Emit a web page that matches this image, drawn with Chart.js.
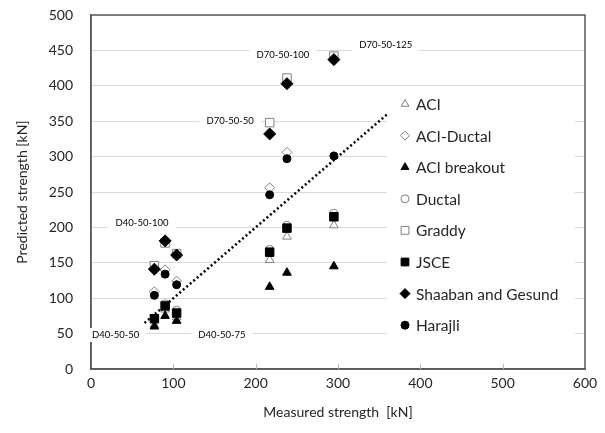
<!DOCTYPE html>
<html>
<head>
<meta charset="utf-8">
<script src="https://cdn.jsdelivr.net/npm/chart.js@4.4.1/dist/chart.umd.min.js"></script>
<style>
  html, body { margin: 0; padding: 0; background: #fff; }
  #wrap { width: 605px; height: 433px; }
</style>
</head>
<body>
<div id="wrap"><canvas id="chart" width="605" height="433"></canvas></div>
<script>
// measured capacity of each specimen [kN]
const measured = [77, 90, 104, 217, 238, 295];

// predicted capacity by each design model [kN]
const aci         = [62, 84, 73, 154, 187, 203];
const aciDuctal   = [109, 140, 124, 256, 306, 436];
const aciBreakout = [60, 75, 68, 116, 136, 145];
const ductal      = [72, 92, 83, 169, 203, 220];
const graddy      = [146, 178, 163, 348, 411, 442];
const jsce        = [71, 89, 79, 165, 199, 215];
const shaaban     = [141, 181, 161, 332, 403, 437];
const harajli     = [104, 134, 119, 246, 297, 301];

// 1:1 reference line
const refLine = [65, 360];

// specimen tags placed on the chart (data coords)
const tagText = ["D40-50-100", "D40-50-50", "D40-50-75", "D70-50-50", "D70-50-100", "D70-50-125"];
const tagX    = [62, 30, 159, 169, 233, 358];
const tagY    = [206, 48, 48, 350, 443, 458];

const xTicks = [100, 200, 300, 400, 500];

const FONT = "Lato, 'Open Sans', sans-serif";
const OPEN = { backgroundColor: "#ffffff", borderColor: "#808080" };
const SOLID = { backgroundColor: "#000000", borderColor: "#000000" };

const seriesDefs = [
  { label: "ACI",                 values: aci,         shape: "triangle", r: 5,   legendR: 4.5, look: OPEN },
  { label: "ACI-Ductal",          values: aciDuctal,   shape: "rectRot",  r: 5,   legendR: 4.5, look: OPEN },
  { label: "ACI breakout",        values: aciBreakout, shape: "triangle", r: 5,   legendR: 4.5, look: SOLID },
  { label: "Ductal",              values: ductal,      shape: "circle",   r: 4,   legendR: 4,   look: OPEN },
  { label: "Graddy",              values: graddy,      shape: "rect",     r: 6,   legendR: 5.5, look: OPEN },
  { label: "JSCE",                values: jsce,        shape: "rect",     r: 6,   legendR: 5.5, look: SOLID },
  { label: "Shaaban and Gesund",  values: shaaban,     shape: "rectRot",  r: 6,   legendR: 5,   look: SOLID },
  { label: "Harajli",             values: harajli,     shape: "circle",   r: 4,   legendR: 4,   look: SOLID }
];

const datasets = seriesDefs.map((s, i) => ({
  type: "scatter",
  label: s.label,
  data: measured.map((x, k) => ({ x: x, y: s.values[k] })),
  pointStyle: s.shape,
  pointRadius: s.r,
  pointHoverRadius: s.r,
  pointBorderWidth: 1,
  pointBackgroundColor: s.look.backgroundColor,
  pointBorderColor: s.look.borderColor,
  order: seriesDefs.length - i   // later series sit on top
}));

datasets.push({
  type: "line",
  label: "1:1",
  data: refLine.map(v => ({ x: v, y: v })),
  borderColor: "#000000",
  borderWidth: 2.5,
  borderDash: [2, 2.6],
  pointRadius: 0,
  fill: false,
  order: 20
});

// frame, inner x ticks, specimen tags and the inset legend
const decorations = {
  id: "decorations",
  beforeDatasetsDraw(chart) {
    const ctx = chart.ctx;
    const a = chart.chartArea;
    const xs = chart.scales.x;
    const ys = chart.scales.y;
    ctx.save();

    // plot frame
    ctx.strokeStyle = "#595959";
    ctx.lineWidth = 1.5;
    ctx.strokeRect(a.left, a.top, a.right - a.left, a.bottom - a.top);

    // short ticks pointing into the plot
    ctx.lineWidth = 1;
    ctx.strokeStyle = "#bfbfbf";
    xTicks.forEach(v => {
      const px = Math.round(xs.getPixelForValue(v)) + 0.5;
      ctx.beginPath();
      ctx.moveTo(px, a.bottom);
      ctx.lineTo(px, a.bottom - 5);
      ctx.stroke();
    });

    // specimen tags with white boxes
    ctx.font = "9.5px " + FONT;
    ctx.textAlign = "center";
    ctx.textBaseline = "middle";
    tagText.forEach((t, i) => {
      const px = xs.getPixelForValue(tagX[i]);
      const py = ys.getPixelForValue(tagY[i]);
      const w = ctx.measureText(t).width + 14;
      ctx.fillStyle = "#ffffff";
      ctx.fillRect(px - w / 2, py - 7, w, 14);
      ctx.fillStyle = "#000000";
      ctx.fillText(t, px, py);
    });

    // legend box inside the plot area
    const lx = 387, ly = 88, lw = a.right - 10 - lx, lh = 268;
    ctx.fillStyle = "#ffffff";
    ctx.fillRect(lx, ly, lw, lh);
    ctx.font = "15.5px " + FONT;
    ctx.textAlign = "left";
    seriesDefs.forEach((s, i) => {
      const cy = 104 + i * 31.6;
      ctx.fillStyle = s.look.backgroundColor;
      ctx.strokeStyle = s.look.borderColor;
      ctx.lineWidth = 1;
      Chart.helpers.drawPoint(ctx, { pointStyle: s.shape, radius: s.legendR, rotation: 0, borderWidth: 1 }, 405, cy);
      ctx.fillStyle = "#262626";
      ctx.fillText(s.label, 416, cy + 1);
    });
    ctx.restore();
  }
};

new Chart(document.getElementById("chart"), {
  data: { datasets: datasets },
  options: {
    responsive: false,
    animation: false,
    devicePixelRatio: 1,
    layout: { padding: { top: 15, right: 20, left: 0, bottom: 0 } },
    plugins: {
      legend: { display: false },
      tooltip: { enabled: false }
    },
    scales: {
      x: {
        type: "linear",
        min: 0,
        max: 600,
        afterFit: s => { s.height = 64; s.paddingLeft = 0; s.paddingRight = 0; },
        ticks: { stepSize: 100, color: "#262626", font: { family: FONT, size: 14 }, padding: 6 },
        grid: { display: false, drawTicks: false },
        border: { display: true, color: "#595959", width: 1.5 },
        title: {
          display: true,
          text: "Measured strength  [kN]",
          color: "#262626",
          font: { family: FONT, size: 14 },
          padding: { top: 4, bottom: 12 }
        }
      },
      y: {
        type: "linear",
        min: 0,
        max: 500,
        afterFit: s => { s.width = 91; s.paddingTop = 0; s.paddingBottom = 0; },
        ticks: { stepSize: 50, color: "#262626", font: { family: FONT, size: 14 }, padding: 18 },
        grid: { color: "#d9d9d9", lineWidth: 1, drawTicks: false },
        border: { display: true, color: "#595959", width: 1.5 },
        title: {
          display: true,
          text: "Predicted strength [kN]",
          color: "#262626",
          font: { family: FONT, size: 14 },
          padding: { top: 14, bottom: 4 }
        }
      }
    }
  },
  plugins: [decorations]
});
</script>
</body>
</html>
